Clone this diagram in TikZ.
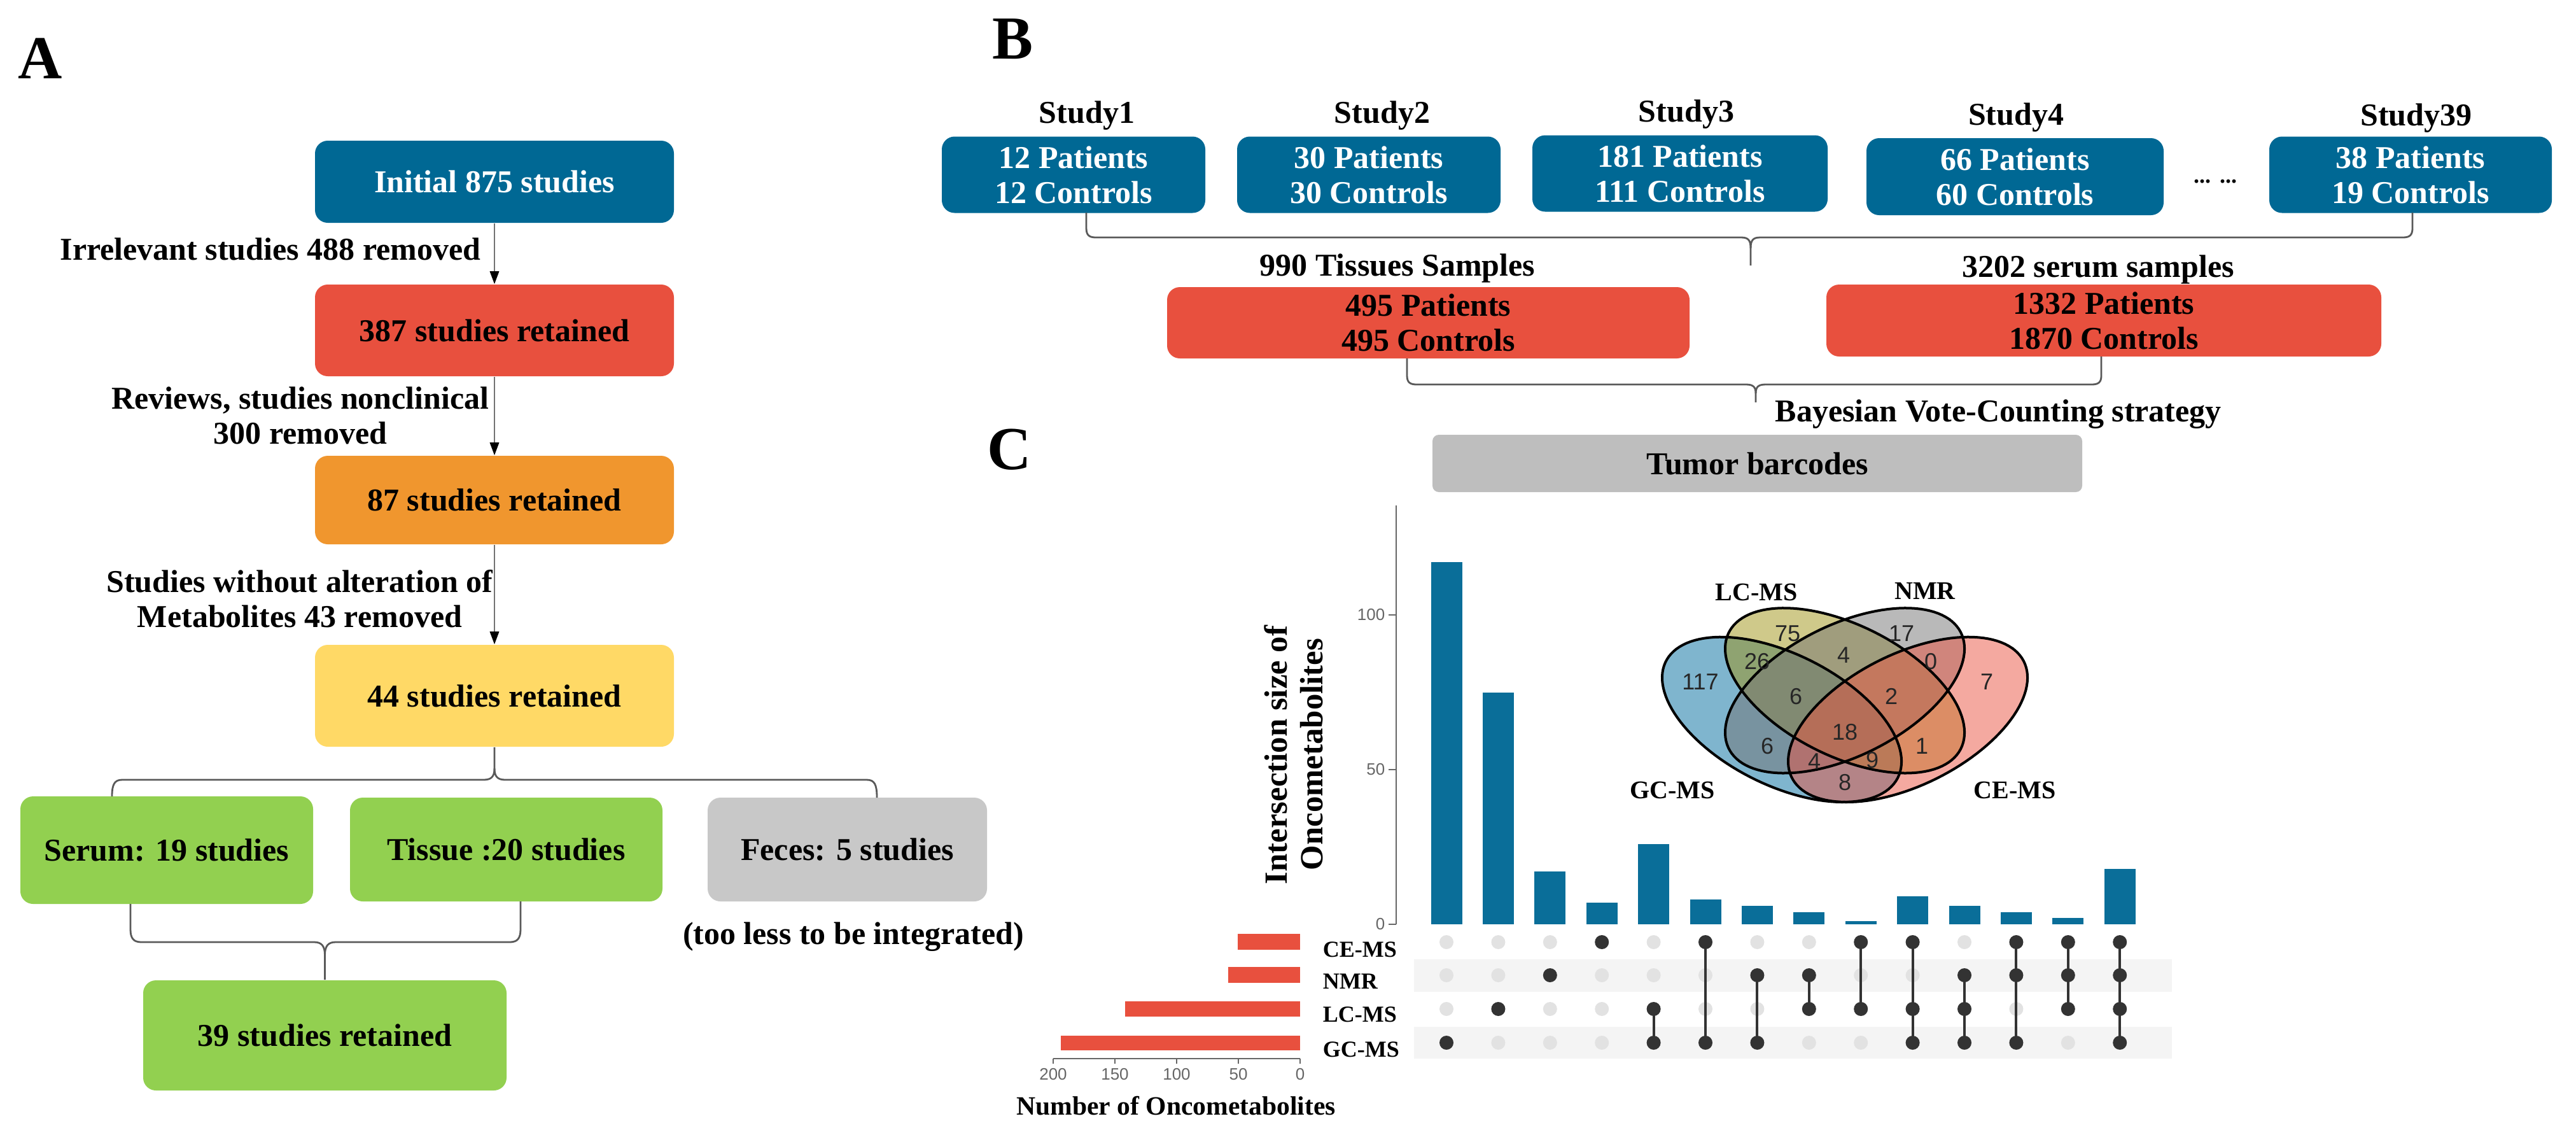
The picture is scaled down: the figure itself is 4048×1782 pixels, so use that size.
\documentclass[tikz,border=0pt]{standalone}
\usepackage{fontspec}
\setmainfont{Liberation Serif}
\newfontfamily\sansf{Liberation Sans}
\usetikzlibrary{arrows.meta}
\definecolor{cblue}{HTML}{006894}
\definecolor{barblue}{HTML}{0A6E99}
\definecolor{cred}{HTML}{E8503E}
\definecolor{corange}{HTML}{F0962E}
\definecolor{cyellow}{HTML}{FFD966}
\definecolor{cgreen}{HTML}{92D050}
\definecolor{cgrayf}{HTML}{C8C8C8}
\definecolor{cgrayt}{HTML}{BEBEBE}
\definecolor{stripe}{HTML}{F4F4F4}
\definecolor{dotoff}{HTML}{E2E2E2}
\definecolor{doton}{HTML}{333333}
\definecolor{vgc}{HTML}{006B9D}
\definecolor{vlc}{HTML}{9F9315}
\definecolor{vnmr}{HTML}{737373}
\definecolor{vce}{HTML}{E95341}
\begin{document}
\begin{tikzpicture}[x=0.25pt,y=-0.25pt,
  box/.style={rounded corners=5pt, inner sep=0pt, align=center, font=\fontsize{12.5}{13.75}\selectfont\bfseries},
  lbl/.style={inner sep=0pt, align=center, font=\fontsize{12.5}{13.75}\selectfont\bfseries},
  panel/.style={inner sep=0pt, font=\fontsize{24}{24}\selectfont\bfseries},
  arr/.style={draw=black!55, line width=0.5pt, -{Triangle[length=5pt,width=3.6pt,color=black]}},
  brace/.style={draw=black!65, line width=0.7pt},
  axisc/.style={draw=black!60, line width=0.45pt},
  tick/.style={inner sep=0pt, text=black!60, font=\sansf\fontsize{6.5}{7}\selectfont},
  rowlab/.style={inner sep=0pt, anchor=west, font=\fontsize{9}{9}\selectfont\bfseries},
  vlab/.style={inner sep=0pt, font=\fontsize{10}{10}\selectfont\bfseries},
  vnum/.style={inner sep=0pt, text=black!85, font=\sansf\fontsize{9}{9}\selectfont},
  conn/.style={draw=doton, line width=1pt}
]
\useasboundingbox (0,0) rectangle (4048,1782);

% ---------------- Panel A ----------------
\node[panel] (pA) at (63,92) {A};
\node[box, fill=cblue, text=white, minimum width=141pt, minimum height=32.25pt] (n1) at (777,285.5) {Initial 875 studies};
\node[box, fill=cred, minimum width=141pt, minimum height=36pt] (n2) at (777,519) {387 studies retained};
\node[box, fill=corange, minimum width=141pt, minimum height=34.75pt] (n3) at (777,785.5) {87 studies retained};
\node[box, fill=cyellow, minimum width=141pt, minimum height=40pt] (n4) at (777,1093) {44 studies retained};
\node[box, fill=cgreen, minimum width=115pt, minimum height=42.25pt] (serum) at (262,1335.5) {Serum: 19 studies};
\node[box, fill=cgreen, minimum width=122.75pt, minimum height=40.75pt] (tissue) at (795.5,1334.5) {Tissue :20 studies};
\node[box, fill=cgrayf, minimum width=109.75pt, minimum height=40.75pt] (feces) at (1331.5,1334.5) {Feces: 5 studies};
\node[box, fill=cgreen, minimum width=142.75pt, minimum height=43.25pt] (n39) at (510.5,1626.5) {39 studies retained};

\node[lbl, anchor=east] (l1) at (756,391) {Irrelevant studies 488 removed};
\node[lbl] (l2) at (472,653) {Reviews, studies nonclinical\\300 removed};
\node[lbl] (l3) at (471,941) {Studies without alteration of\\Metabolites 43 removed};
\node[lbl] (l4) at (1341,1472) {(too less to be integrated)};

\draw[arr] (n1) -- (n2);
\draw[arr] (n2) -- (n3);
\draw[arr] (n3) -- (n4);

\draw[brace] (n4.south) -- (777,1207) .. controls (777,1220) and (772,1225) .. (760,1225) -- (192,1225) .. controls (180,1225) and (176,1232) .. (176,1251);
\draw[brace] (777,1207) .. controls (777,1220) and (782,1225) .. (794,1225) -- (1362,1225) .. controls (1374,1225) and (1378,1232) .. (1378,1253);

\draw[brace] (205,1420) -- (205,1460) .. controls (205,1474) and (210,1480) .. (222,1480) -- (494,1480) .. controls (505,1480) and (510.5,1486) .. (510.5,1500) -- (n39.north);
\draw[brace] (818,1416) -- (818,1460) .. controls (818,1474) and (813,1480) .. (801,1480) -- (527,1480) .. controls (516,1480) and (510.5,1486) .. (510.5,1500);

% ---------------- Panel B ----------------
\node[panel] (pB) at (1591,61) {B};
\node[lbl, anchor=base] (h1) at (1708,193) {Study1};
\node[lbl, anchor=base] (h2) at (2172,193) {Study2};
\node[lbl, anchor=base] (h3) at (2650,191) {Study3};
\node[lbl, anchor=base] (h4) at (3168,196) {Study4};
\node[lbl, anchor=base] (h39) at (3797,197) {Study39};

\node[box, fill=cblue, text=white, minimum width=103.5pt, minimum height=30pt] (s1) at (1687,274.5) {12 Patients\\12 Controls};
\node[box, fill=cblue, text=white, minimum width=103.5pt, minimum height=30pt] (s2) at (2151,274.5) {30 Patients\\30 Controls};
\node[box, fill=cblue, text=white, minimum width=116pt, minimum height=30pt] (s3) at (2640,272.5) {181 Patients\\111 Controls};
\node[box, fill=cblue, text=white, minimum width=116.75pt, minimum height=30.25pt] (s4) at (3166.5,277.5) {66 Patients\\60 Controls};
\node[box, fill=cblue, text=white, minimum width=111pt, minimum height=30pt] (s39) at (3788,274.5) {38 Patients\\19 Controls};
\node[inner sep=0pt, anchor=base, font=\fontsize{9}{9}\selectfont\bfseries] (dots) at (3481,287) {...\hspace{3.5pt}...};

\draw[brace] (1707,334) -- (1707,358) .. controls (1707,369) and (1711,373) .. (1722,373) -- (2736,373) .. controls (2747,373) and (2751,377) .. (2751,390) -- (2751,417);
\draw[brace] (3791,334) -- (3791,358) .. controls (3791,369) and (3787,373) .. (3776,373) -- (2766,373) .. controls (2755,373) and (2751,377) .. (2751,390);

\node[lbl, anchor=base] (ts) at (2196,433) {990 Tissues Samples};
\node[lbl, anchor=base] (ss) at (3297,435) {3202 serum samples};
\node[box, fill=cred, minimum width=205.25pt, minimum height=28pt] (t1) at (2244.5,507) {495 Patients\\495 Controls};
\node[box, fill=cred, minimum width=218pt, minimum height=28.25pt] (t2) at (3306,503.5) {1332 Patients\\1870 Controls};

\draw[brace] (2211,563) -- (2211,590) .. controls (2211,600) and (2215,604) .. (2226,604) -- (2744,604) .. controls (2755,604) and (2759,608) .. (2759,618) -- (2759,632);
\draw[brace] (3302,560) -- (3302,590) .. controls (3302,600) and (3298,604) .. (3287,604) -- (2774,604) .. controls (2763,604) and (2759,608) .. (2759,618);
\node[lbl, anchor=base west] (bv) at (2789,662) {Bayesian Vote-Counting strategy};

% ---------------- Panel C ----------------
\node[panel] (pC) at (1586,706) {C};
\node[box, rounded corners=2.5pt, fill=cgrayt, minimum width=255.25pt, minimum height=22.5pt] (tb) at (2761.5,728) {Tumor barcodes};

% intersection bars
\draw[axisc] (2194,794) -- (2194,1452);
\foreach \v/\lab in {0/0,50/50,100/100}{
  \draw[axisc] (2182,{1452-\v*4.86}) -- (2194,{1452-\v*4.86});
  \node[tick, anchor=east] at (2177,{1452-\v*4.86}) {\lab};
}
\foreach \i/\v in {1/117,2/75,3/17,4/7,5/26,6/8,7/6,8/4,9/1,10/9,11/6,12/4,13/2,14/18}{
  \fill[barblue] ({2273+(\i-1)*81.4-24.5},1452) rectangle ({2273+(\i-1)*81.4+24.5},{1452-\v*4.86});
}
\node[lbl, rotate=90, font=\fontsize{12.7}{13}\selectfont\bfseries] (yt1) at (2005,1186) {Intersection size of};
\node[lbl, rotate=90, font=\fontsize{12.7}{13}\selectfont\bfseries] (yt2) at (2061,1185) {Oncometabolites};

% matrix
\fill[stripe] (2222,1507) rectangle (3413,1558);
\fill[stripe] (2222,1613) rectangle (3413,1663);
\foreach \c in {1,...,14}{
  \foreach \y in {1480,1532,1585,1638}{
    \fill[dotoff] ({2273+(\c-1)*81.4},\y) circle[radius=11];
  }
}
\foreach \c/\ya/\yb in {5/1585/1638,6/1480/1638,7/1532/1638,8/1532/1585,9/1480/1585,10/1480/1638,11/1532/1638,12/1480/1638,13/1480/1585,14/1480/1638}{
  \draw[conn] ({2273+(\c-1)*81.4},\ya) -- ({2273+(\c-1)*81.4},\yb);
}
\foreach \c/\y in {1/1638,2/1585,3/1532,4/1480,5/1585,5/1638,6/1480,6/1638,7/1532,7/1638,8/1532,8/1585,9/1480,9/1585,10/1480,10/1585,10/1638,11/1532,11/1585,11/1638,12/1480,12/1532,12/1638,13/1480,13/1532,13/1585,14/1480,14/1532,14/1585,14/1638}{
  \fill[doton] ({2273+(\c-1)*81.4},\y) circle[radius=11];
}

% set sizes
\fill[cred] (1945,1467) rectangle (2043,1492);
\fill[cred] (1930,1519) rectangle (2043,1544);
\fill[cred] (1768,1573) rectangle (2043,1597);
\fill[cred] (1667,1627) rectangle (2043,1650);
\draw[axisc] (1655,1663) -- (2043,1663);
\foreach \x/\lab in {1655/200,1752/150,1849/100,1946/50,2043/0}{
  \draw[axisc] (\x,1663) -- (\x,1671);
  \node[tick] at (\x,1688) {\lab};
}
\node[rowlab] (rce) at (2078,1492) {CE-MS};
\node[rowlab] (rnmr) at (2078,1542) {NMR};
\node[rowlab] (rlc) at (2078,1594) {LC-MS};
\node[rowlab] (rgc) at (2078,1649) {GC-MS};
\node[lbl, font=\fontsize{10.4}{11}\selectfont\bfseries] (nox) at (1848,1737) {Number of Oncometabolites};

% Venn
\begin{scope}[fill opacity=0.5]
\fill[vgc] plot[domain=0:360,samples=120,variable=\t] ({2800+163.3*cos(\t)+93.3*sin(\t)},{1130.35+112.6*cos(\t)-64.3*sin(\t)}) -- cycle;
\fill[vlc] plot[domain=0:360,samples=120,variable=\t] ({2899+163.3*cos(\t)+93.3*sin(\t)},{1084.85+112.6*cos(\t)-64.3*sin(\t)}) -- cycle;
\fill[vnmr] plot[domain=0:360,samples=120,variable=\t] ({2899+163.3*cos(\t)-93.3*sin(\t)},{1084.85-112.6*cos(\t)-64.3*sin(\t)}) -- cycle;
\fill[vce] plot[domain=0:360,samples=120,variable=\t] ({2998+163.3*cos(\t)-93.3*sin(\t)},{1130.35-112.6*cos(\t)-64.3*sin(\t)}) -- cycle;
\end{scope}
\begin{scope}[line width=1pt, draw=black]
\draw plot[domain=0:360,samples=120,variable=\t] ({2800+163.3*cos(\t)+93.3*sin(\t)},{1130.35+112.6*cos(\t)-64.3*sin(\t)}) -- cycle;
\draw plot[domain=0:360,samples=120,variable=\t] ({2899+163.3*cos(\t)+93.3*sin(\t)},{1084.85+112.6*cos(\t)-64.3*sin(\t)}) -- cycle;
\draw plot[domain=0:360,samples=120,variable=\t] ({2899+163.3*cos(\t)-93.3*sin(\t)},{1084.85-112.6*cos(\t)-64.3*sin(\t)}) -- cycle;
\draw plot[domain=0:360,samples=120,variable=\t] ({2998+163.3*cos(\t)-93.3*sin(\t)},{1130.35-112.6*cos(\t)-64.3*sin(\t)}) -- cycle;
\end{scope}
\node[vlab] (vl1) at (2760,930) {LC-MS};
\node[vlab] (vl2) at (3025,928) {NMR};
\node[vlab] (vl3) at (2628,1241) {GC-MS};
\node[vlab] (vl4) at (3166,1241) {CE-MS};
\node[vnum] (v1) at (2672,1071) {117};
\node[vnum] (v2) at (2809,995) {75};
\node[vnum] (v3) at (2988,995) {17};
\node[vnum] (v4) at (3122,1071) {7};
\node[vnum] (v5) at (2761,1039) {26};
\node[vnum] (v6) at (2897,1029) {4};
\node[vnum] (v7) at (3034,1039) {0};
\node[vnum] (v8) at (2822,1094) {6};
\node[vnum] (v9) at (2972,1094) {2};
\node[vnum] (v10) at (2899,1150) {18};
\node[vnum] (v11) at (2777,1172) {6};
\node[vnum] (v12) at (3020,1172) {1};
\node[vnum] (v13) at (2851,1196) {4};
\node[vnum] (v14) at (2942,1194) {9};
\node[vnum] (v15) at (2899,1229) {8};
\end{tikzpicture}
\end{document}
